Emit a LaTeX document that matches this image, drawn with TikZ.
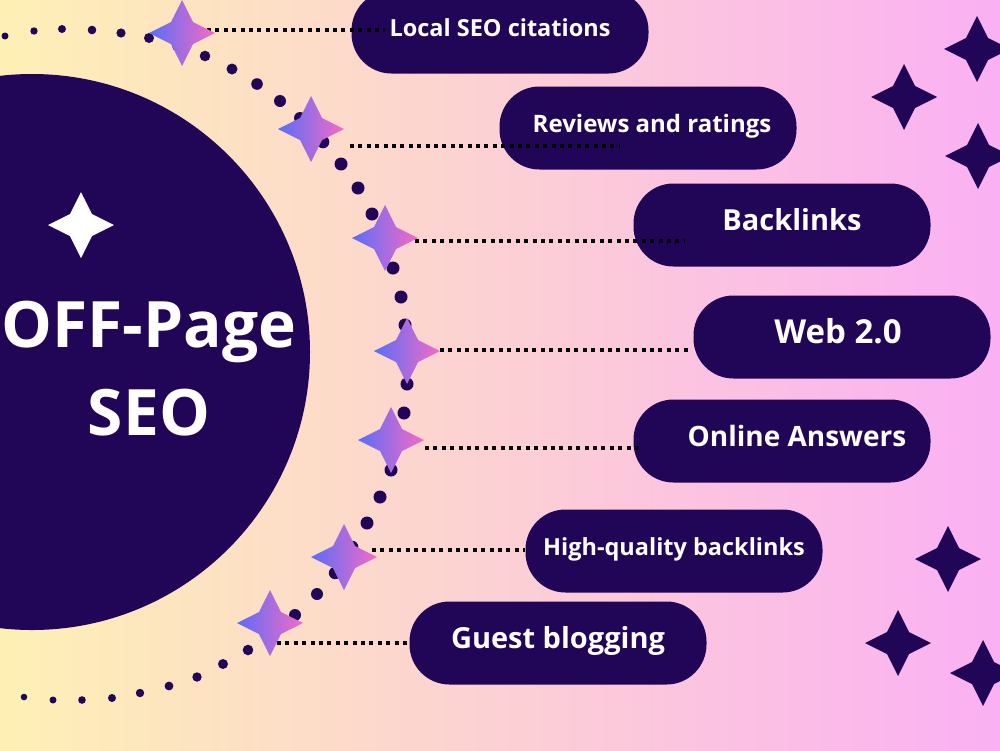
\documentclass[tikz,border=0pt]{standalone}
\usepackage{fontspec}
\setmainfont{Open Sans}

\definecolor{ink}{HTML}{210557}
\definecolor{bgleft}{HTML}{FEF0B5}
\definecolor{bgmid}{HTML}{FDD3CC}
\definecolor{bgright}{HTML}{FAB0F3}
\definecolor{sparkblue}{HTML}{5A6DF7}
\definecolor{sparkpink}{HTML}{F56AC6}

\tikzset{
  spark/.pic={\path[pic actions] (-33,0) -- (-11,-11) -- (0,-33) -- (11,-11) -- (33,0) -- (11,11) -- (0,33) -- (-11,11) -- cycle;}
}

\begin{document}
\begin{tikzpicture}[x=1pt, y=-1pt,
    pill/.style={fill=ink, rounded corners=40pt, minimum width=297pt, minimum height=83pt, inner sep=0pt,
      text=white, font=\bfseries\fontsize{#1}{#1}\selectfont, text height={0.7*#1pt}, text depth={0.3*#1pt}},
    pill/.default=23.5,
    conn/.style={black, line width=4pt, dash pattern=on 4pt off 4.4pt},
    grad/.style={left color=sparkblue, right color=sparkpink},
    title/.style={text=white, align=center, font=\bfseries\fontsize{64}{88}\selectfont}
]
\useasboundingbox (0,0) rectangle (1000,750);
\clip (0,0) rectangle (1000,750);
\shade[left color=bgleft, middle color=bgmid, right color=bgright] (0,0) rectangle (1000,750);

% big disc
\fill[ink] (32,352) circle (278);
\pic[fill=white] at (81,225) {spark};
\node[title] (head) at (149,369) {OFF-Page\\SEO};

% pills
\node[pill] (local) at (500,32) {Local SEO citations};
\node[pill=24] (reviews) at (648,128) {\hspace*{8pt}Reviews and ratings};
\node[pill=29] (backlinks) at (782,225) {\hspace*{20pt}Backlinks};
\node[pill=33] (web) at (842,337) {Web 2.0\hspace*{8pt}};
\node[pill=28] (answers) at (782,441) {\hspace*{30pt}Online Answers};
\node[pill] (quality) at (674,551) {High-quality backlinks};
\node[pill=29] (guest) at (558,643) {Guest blogging};

% connector ends
\coordinate (s1) at (207,30);  \coordinate (e1) at (385,30);
\coordinate (s2) at (350,146); \coordinate (e2) at (620,146);
\coordinate (s3) at (415,241); \coordinate (e3) at (685,241);
\coordinate (s4) at (440,350); \coordinate (e4) at (690,350);
\coordinate (s5) at (425,448); \coordinate (e5) at (640,448);
\coordinate (s6) at (372,550); \coordinate (e6) at (525,550);
\coordinate (s7) at (277,643); \coordinate (e7) at (410,643);

\draw[conn] (s1) -- (e1);
\draw[conn] (s2) -- (e2);
\draw[conn] (s3) -- (e3);
\draw[conn] (s4) -- (e4);
\draw[conn] (s5) -- (e5);
\draw[conn] (s6) -- (e6);
\draw[conn] (s7) -- (e7);

% dotted arc
\foreach \x/\y/\r in {5/36/3.5, 34/31/3.7, 62/29/4, 92/30/4.3, 121/33/4.6, 149/38/5, 177/46/5,
    205/56/5.3, 232/69/5.5, 257/84/5.8, 280/101/6, 300/118/6, 323/142/6.3, 341/164/6.5,
    358/188/6.5, 372/214/6.5, 383/241/6.5, 393/268/6.5, 401/297/6.5, 405/325/6.5, 407/355/6.5,
    407/384/6.5, 404/413/6.5, 398/442/6.5, 391/470/6.5, 380/497/6.5, 367/523/6.5, 352/547/6.3,
    335/573/6.2, 317/594/6, 295/615/6, 272/634/5.5, 248/650/5.3, 223/664/5, 197/677/4.7,
    169/686/4.4, 140/693/4.2, 112/698/4, 82/700/3.8, 53/700/3.5, 24/697/3.3}
  \fill[ink] (\x,\y) circle (\r pt);

% gradient sparks on the arc
\pic[grad] at (182,33) {spark};
\pic[grad] at (311,129) {spark};
\pic[grad] at (385,238) {spark};
\pic[grad] at (407,351) {spark};
\pic[grad] at (391,440) {spark};
\pic[grad] at (344,557) {spark};
\pic[grad] at (270,623) {spark};

% dark sparks
\pic[fill=ink] at (977,49) {spark};
\pic[fill=ink] at (904,97) {spark};
\pic[fill=ink] at (978,156) {spark};
\pic[fill=ink] at (948,559) {spark};
\pic[fill=ink] at (898,643) {spark};
\pic[fill=ink] at (983,673) {spark};
\end{tikzpicture}
\end{document}
